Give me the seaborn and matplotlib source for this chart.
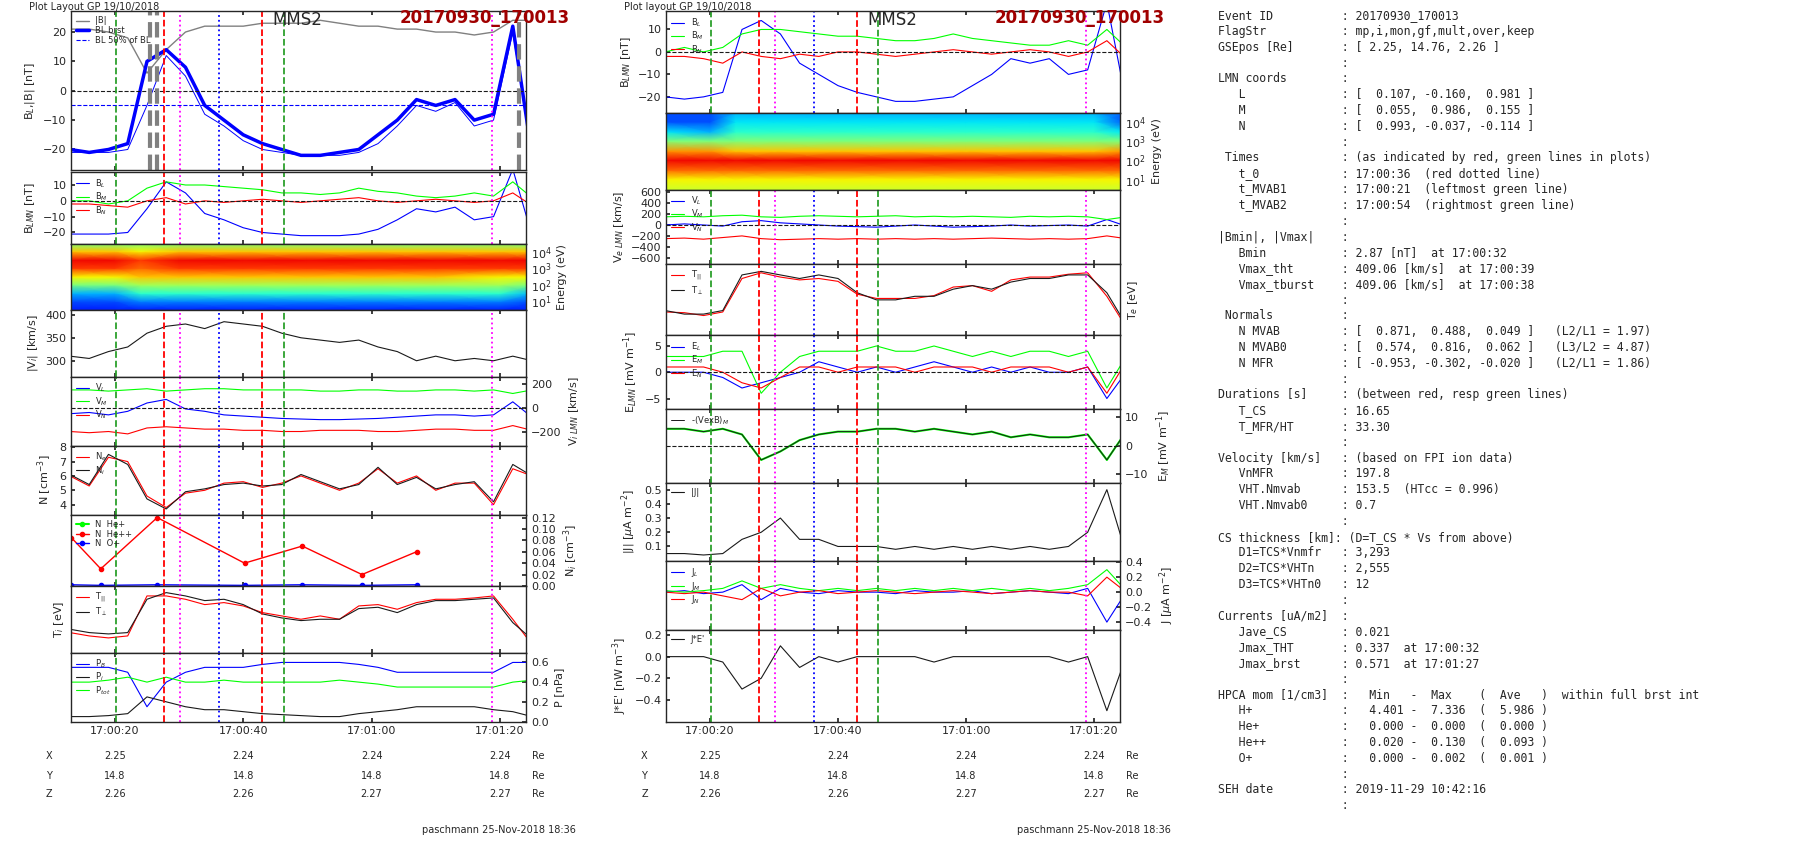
import numpy as np
import matplotlib
matplotlib.use("Agg")
import matplotlib.pyplot as plt
import seaborn as sns

sns.set_theme(style="ticks")
plt.rcParams['font.family'] = ['DejaVu Sans']

# ---------------- data (seconds after 17:00:00) ----------------
t = [13, 16, 19, 22, 25, 28, 31, 34, 37, 40, 43, 46, 49, 52, 55, 58, 61, 64, 67, 70, 73, 76, 79, 82, 85]
Bmag = [21, 21, 20, 18, 6, 14, 20, 22, 22, 22, 23, 23, 23, 24, 23, 22, 22, 21, 21, 20, 20, 19, 20, 24, 24]
BL = [-21, -21, -21, -20, -5, 12, 5, -8, -12, -17, -20, -21, -22, -22, -22, -21, -18, -12, -5, -7, -4, -12, -10, 20, -22]
BM = [0, 0, -2, 0, 8, 12, 10, 10, 9, 8, 7, 5, 5, 4, 5, 8, 6, 5, 3, 2, 3, 5, 3, 12, 2]
BN = [-2, -2, -3, -4, 0, 2, -2, 0, -1, 0, 1, 0, -1, 0, 1, 2, 0, -1, 0, 1, 0, -1, 0, 5, -3]
Vimag = [310, 305, 320, 330, 360, 375, 380, 370, 385, 380, 375, 360, 350, 345, 340, 345, 330, 320, 300, 310, 300, 305, 300, 310, 300]
ViL = [-50, -40, -60, -30, 40, 70, -10, -30, -60, -70, -80, -90, -95, -100, -100, -95, -90, -80, -70, -60, -60, -70, -60, 50, -80]
ViM = [150, 150, 140, 150, 160, 140, 150, 160, 160, 150, 150, 150, 150, 140, 140, 150, 150, 140, 140, 150, 150, 140, 150, 120, 150]
ViN = [-200, -210, -200, -220, -170, -160, -170, -180, -180, -190, -190, -200, -200, -190, -190, -190, -200, -200, -190, -180, -180, -190, -190, -150, -190]
Ne = [6.0, 5.3, 7.3, 7.0, 4.6, 3.8, 4.8, 5.0, 5.5, 5.6, 5.2, 5.5, 6.0, 5.5, 5.0, 5.5, 6.5, 5.5, 6.0, 5.0, 5.5, 5.5, 4.0, 6.5, 6.0]
Ni = [6.1, 5.4, 7.5, 6.8, 4.4, 3.7, 4.9, 5.1, 5.4, 5.5, 5.3, 5.4, 6.1, 5.6, 5.1, 5.4, 6.6, 5.4, 5.9, 5.1, 5.4, 5.6, 4.2, 6.8, 6.0]
hpca_t = [13.2, 17.8, 26.6, 40.2, 49.2, 58.5, 67.0]
NHepp = [0.085, 0.03, 0.12, 0.04, 0.07, 0.02, 0.06]
NOp = [0.002, 0.001, 0.002, 0.001, 0.002, 0.001, 0.002]
Tpar = [0.30, 0.25, 0.22, 0.25, 0.85, 0.85, 0.80, 0.72, 0.75, 0.70, 0.60, 0.55, 0.50, 0.55, 0.50, 0.70, 0.72, 0.65, 0.75, 0.80, 0.80, 0.82, 0.85, 0.50, 0.12]
Tperp = [0.35, 0.30, 0.28, 0.30, 0.80, 0.90, 0.85, 0.78, 0.80, 0.72, 0.58, 0.52, 0.48, 0.50, 0.50, 0.66, 0.68, 0.60, 0.72, 0.78, 0.78, 0.80, 0.82, 0.45, 0.20]
Pb = [0.55, 0.55, 0.55, 0.50, 0.15, 0.40, 0.50, 0.55, 0.55, 0.55, 0.58, 0.60, 0.60, 0.60, 0.60, 0.58, 0.55, 0.50, 0.50, 0.50, 0.50, 0.50, 0.50, 0.60, 0.60]
Pi = [0.05, 0.05, 0.06, 0.08, 0.25, 0.20, 0.15, 0.12, 0.12, 0.10, 0.08, 0.07, 0.06, 0.05, 0.05, 0.08, 0.10, 0.12, 0.15, 0.15, 0.15, 0.15, 0.12, 0.10, 0.05]
Ptot = [0.40, 0.40, 0.42, 0.45, 0.40, 0.45, 0.40, 0.40, 0.42, 0.40, 0.40, 0.40, 0.40, 0.40, 0.42, 0.40, 0.38, 0.35, 0.35, 0.35, 0.35, 0.35, 0.35, 0.40, 0.42]
BLm = [-20, -21, -20, -18, 10, 14, 8, -5, -10, -15, -18, -20, -22, -22, -21, -20, -15, -10, -3, -5, -3, -10, -8, 22, -22]
BMm = [0, 2, 0, 2, 8, 10, 10, 9, 8, 7, 7, 6, 5, 5, 6, 8, 6, 5, 4, 3, 3, 5, 3, 10, 2]
BNm = [-2, -2, -3, -5, 0, -2, -3, -1, -2, 0, 0, -1, -2, -1, 0, 1, 0, -1, 0, 1, 0, -2, 0, 5, -3]
VeL = [0, 20, 0, -20, 60, 80, 40, 20, 0, -20, -30, -40, -20, 0, -20, -40, -30, -20, 0, -20, -10, 0, -20, 100, -20]
VeM = [150, 160, 150, 170, 180, 150, 140, 160, 170, 160, 150, 160, 170, 150, 160, 150, 160, 150, 140, 160, 150, 160, 150, 100, 150]
VeN = [-250, -240, -260, -230, -200, -250, -270, -260, -250, -260, -250, -260, -250, -260, -250, -260, -250, -240, -250, -260, -250, -260, -250, -200, -250]
Te = [0.35, 0.30, 0.30, 0.35, 0.85, 0.90, 0.85, 0.80, 0.85, 0.80, 0.60, 0.50, 0.50, 0.55, 0.55, 0.65, 0.70, 0.65, 0.75, 0.80, 0.80, 0.85, 0.85, 0.60, 0.15]
Te2 = [0.33, 0.32, 0.28, 0.33, 0.80, 0.88, 0.82, 0.78, 0.80, 0.76, 0.58, 0.52, 0.52, 0.52, 0.56, 0.68, 0.70, 0.62, 0.78, 0.82, 0.82, 0.86, 0.88, 0.55, 0.12]
EL = [0, 0, 0, -1, -3, -2, -1, 0, 2, 1, 0, 1, 0, 1, 2, 1, 0, 1, 0, 1, 0, 0, 1, -5, 0]
EM = [3, 3, 3, 4, 4, -4, 0, 3, 4, 4, 4, 5, 4, 4, 5, 4, 3, 4, 3, 4, 4, 3, 4, -3, 3]
EN = [1, 1, 1, 0, -2, -3, -1, 1, 1, 0, 1, 1, 1, 0, 1, 1, 1, 0, 1, 1, 1, 0, 1, -4, 2]
EMvxB = [6, 6, 5, 6, 4, -5, -2, 2, 4, 5, 5, 6, 6, 5, 6, 5, 4, 5, 3, 4, 3, 3, 4, -5, 5]
Jmag = [0.05, 0.05, 0.04, 0.05, 0.15, 0.20, 0.30, 0.15, 0.15, 0.10, 0.10, 0.10, 0.08, 0.10, 0.08, 0.10, 0.08, 0.10, 0.08, 0.10, 0.08, 0.10, 0.20, 0.50, 0.05]
JL = [0.0, 0.02, -0.02, 0.0, 0.1, -0.1, 0.05, 0.0, -0.02, 0.02, 0.0, 0.0, -0.02, 0.02, 0.0, 0.0, 0.02, -0.02, 0.0, 0.02, 0.0, -0.02, 0.05, -0.4, 0.0]
JM = [0.02, 0.0, 0.02, 0.05, 0.15, 0.05, 0.1, 0.05, 0.02, 0.05, 0.02, 0.05, 0.02, 0.05, 0.02, 0.05, 0.02, 0.05, 0.02, 0.05, 0.02, 0.05, 0.1, 0.3, 0.02]
JN = [0.0, -0.02, 0.0, -0.05, -0.1, 0.05, -0.05, 0.0, 0.02, -0.02, 0.0, 0.02, 0.0, -0.02, 0.0, 0.02, 0.0, -0.02, 0.0, 0.02, 0.0, 0.0, -0.05, 0.2, 0.0]
JE = [0.0, 0.0, 0.0, -0.05, -0.30, -0.20, 0.10, -0.10, 0.0, -0.05, 0.0, 0.0, 0.0, 0.0, -0.05, 0.0, 0.0, 0.0, 0.0, 0.0, 0.0, -0.05, 0.0, -0.50, 0.0]
spec_t = [13, 20, 24, 30, 40, 50, 60, 70, 80, 85]
spec_E = [3, 10, 30, 100, 300, 1000, 3000, 10000, 30000]
spec_ion = [[1.5, 1.5, 1.5, 1.5, 1.5, 1.5, 1.5, 1.5, 1.5, 1.5],
            [2, 2, 2.5, 2.5, 2.5, 2.5, 2.5, 2.5, 2.5, 2],
            [3, 3, 4, 4, 4, 4, 4, 4, 4, 3],
            [5, 5, 5.5, 5.5, 5.5, 5.5, 5.5, 5.5, 5.5, 5],
            [6.5, 6.5, 7, 7, 7, 7, 7, 7, 6.5, 6.5],
            [8.5, 8.5, 8, 8.5, 8.5, 8.5, 8.5, 8.5, 8.5, 8.5],
            [9, 9, 8.5, 9, 9, 9, 9, 9, 9, 9],
            [7, 7, 6.5, 7, 7, 7, 7, 7, 7, 7],
            [5, 5, 5, 5, 5, 5, 5, 5, 5, 5]]
spec_ele = [[6, 6, 6, 6, 6, 6, 6, 6, 6, 6],
            [6.5, 6.5, 6.5, 6.5, 6.5, 6.5, 6.5, 6.5, 6.5, 6.5],
            [8, 8, 8, 8, 8, 8, 8, 8, 8, 8],
            [9, 9, 9, 9, 9, 9, 9, 9, 9, 9],
            [7.5, 7.5, 7, 7, 7, 7, 7, 7, 7, 7.5],
            [5, 5, 5, 5, 5, 5, 5, 5, 5, 5],
            [3.5, 3, 4, 4, 4, 4, 4, 4, 4, 3.5],
            [2, 2, 3.5, 3.5, 3.5, 3.5, 3.5, 3.5, 3.5, 2],
            [2, 2, 3, 3, 3, 3, 3, 3, 3, 2]]
tick_s = [20, 40, 60, 80]
tick_lab = ["17:00:20", "17:00:40", "17:01:00", "17:01:20"]
pos_X = ["2.25", "2.24", "2.24", "2.24"]
pos_Y = ["14.8", "14.8", "14.8", "14.8"]
pos_Z = ["2.26", "2.26", "2.27", "2.27"]
info = """Event ID          : 20170930_170013
FlagStr           : mp,i,mon,gf,mult,over,keep
GSEpos [Re]       : [ 2.25, 14.76, 2.26 ]
                  :
LMN coords        :
   L              : [  0.107, -0.160,  0.981 ]
   M              : [  0.055,  0.986,  0.155 ]
   N              : [  0.993, -0.037, -0.114 ]
                  :
 Times            : (as indicated by red, green lines in plots)
   t_0            : 17:00:36  (red dotted line)
   t_MVAB1        : 17:00:21  (leftmost green line)
   t_MVAB2        : 17:00:54  (rightmost green line)
                  :
|Bmin|, |Vmax|    :
   Bmin           : 2.87 [nT]  at 17:00:32
   Vmax_tht       : 409.06 [km/s]  at 17:00:39
   Vmax_tburst    : 409.06 [km/s]  at 17:00:38
                  :
 Normals          :
   N MVAB         : [  0.871,  0.488,  0.049 ]   (L2/L1 = 1.97)
   N MVAB0        : [  0.574,  0.816,  0.062 ]   (L3/L2 = 4.87)
   N MFR          : [ -0.953, -0.302, -0.020 ]   (L2/L1 = 1.86)
                  :
Durations [s]     : (between red, resp green lines)
   T_CS           : 16.65
   T_MFR/HT       : 33.30
                  :
Velocity [km/s]   : (based on FPI ion data)
   VnMFR          : 197.8
   VHT.Nmvab      : 153.5  (HTcc = 0.996)
   VHT.Nmvab0     : 0.7
                  :
CS thickness [km]: (D=T_CS * Vs from above)
   D1=TCS*Vnmfr   : 3,293
   D2=TCS*VHTn    : 2,555
   D3=TCS*VHTn0   : 12
                  :
Currents [uA/m2]  :
   Jave_CS        : 0.021
   Jmax_THT       : 0.337  at 17:00:32
   Jmax_brst      : 0.571  at 17:01:27
                  :
HPCA mom [1/cm3]  :   Min   -  Max    (  Ave   )  within full brst int
   H+             :   4.401 -  7.336  (  5.986 )
   He+            :   0.000 -  0.000  (  0.000 )
   He++           :   0.020 -  0.130  (  0.093 )
   O+             :   0.000 -  0.002  (  0.001 )
                  :
SEH date          : 2019-11-29 10:42:16
                  :"""

# ---------------- layout ----------------
W, H = 1570.0, 732.0
fig = plt.figure(figsize=(18.04, 8.41), dpi=100)
fig.patch.set_facecolor('white')

def mk(x0, x1, y0, y1):
    ax = fig.add_axes([x0 / W, 1 - y1 / H, (x1 - x0) / W, (y1 - y0) / H])
    ax.set_xlim(13.2, 84.1)
    ax.tick_params(labelsize=8, length=3, direction='in', top=True)
    ax.set_xticks(tick_s)
    ax.set_xticklabels([])
    for s in ax.spines.values():
        s.set_linewidth(1.0)
    return ax

def vlines(ax):
    for x, c, ls in [(20.2, 'tab:green', '--'), (46.3, 'tab:green', '--'), (27.7, 'red', '--'),
                     (42.9, 'red', '--'), (30.2, 'magenta', ':'), (78.7, 'magenta', ':'), (36.3, 'blue', ':')]:
        ax.axvline(x, color=c, ls=ls, lw=1.3)

def line(ax, y, c, lw=0.8, label=None, x=t):
    sns.lineplot(x=x, y=y, ax=ax, color=c, lw=lw, label=label, legend=False, estimator=None)

def leg(ax, **kw):
    ax.legend(loc='upper left', fontsize=6, frameon=False, handlelength=1.5, borderpad=0.1,
              labelspacing=0.1, **kw)

def spec(ax, Z):
    ax.pcolormesh(spec_t, spec_E, np.array(Z), cmap='jet', shading='gouraud', vmin=0, vmax=10)
    ax.set_yscale('log'); ax.set_ylim(3, 30000)
    ax.set_yticks([10, 100, 1000, 10000])
    ax.yaxis.tick_right(); ax.yaxis.set_label_position('right')
    ax.tick_params(axis='y', which='minor', right=False, left=False)
    ax.set_ylabel('Energy (eV)', fontsize=8)

LX0, LX1 = 62, 458
rows_L = [(10, 148), (150, 212), (212, 270), (270, 328), (328, 388), (388, 448), (448, 510), (510, 568), (568, 628)]
axL = [mk(LX0, LX1, a, b) for a, b in rows_L]

a = axL[0]
line(a, Bmag, 'grey', 1, '|B|')
line(a, BL, 'blue', 0.7)
line(a, BLm, 'blue', 2.5, 'BL brst')
a.axhline(0, color='k', ls='--', lw=0.8); a.axhline(-5, color='blue', ls='--', lw=0.8, label='BL 50% of BL')
for x in (25.5, 26.6, 83.0):
    a.axvline(x, color='grey', ls='--', lw=3)
vlines(a); a.set_ylim(-27, 27); a.set_yticks([-20, -10, 0, 10, 20])
a.set_ylabel('B$_L$,|B| [nT]', fontsize=8); leg(a)

a = axL[1]
line(a, BL, 'blue', label='B$_L$'); line(a, BM, 'lime', label='B$_M$'); line(a, BN, 'red', label='B$_N$')
a.axhline(0, color='k', ls='--', lw=0.8); vlines(a); a.set_ylim(-27, 18); a.set_yticks([-20, -10, 0, 10])
a.set_ylabel('B$_{LMN}$ [nT]', fontsize=8); leg(a)

spec(axL[2], spec_ion)

a = axL[3]
line(a, Vimag, 'k'); vlines(a); a.set_ylim(265, 410); a.set_yticks([300, 350, 400])
a.set_ylabel('|V$_i$| [km/s]', fontsize=8)

a = axL[4]
line(a, ViL, 'blue', label='V$_L$'); line(a, ViM, 'lime', label='V$_M$'); line(a, ViN, 'red', label='V$_N$')
a.axhline(0, color='k', ls='--', lw=0.8); vlines(a); a.set_ylim(-320, 260); a.set_yticks([-200, 0, 200])
a.yaxis.tick_right(); a.yaxis.set_label_position('right'); a.set_ylabel('V$_{i\\ LMN}$ [km/s]', fontsize=8); leg(a)

a = axL[5]
line(a, Ne, 'red', label='N$_e$'); line(a, Ni, 'k', label='N$_i$'); vlines(a); a.set_ylim(3.3, 8.1)
a.set_yticks([4, 5, 6, 7, 8]); a.set_ylabel('N [cm$^{-3}$]', fontsize=8); leg(a)

a = axL[6]
a.plot([], [], color='lime', marker='o', ms=3, label='N  He+')
a.plot(hpca_t, NHepp, color='red', marker='o', ms=3, lw=1, label='N  He++')
a.plot(hpca_t, NOp, color='blue', marker='o', ms=3, lw=1, label='N  O+')
vlines(a); a.set_ylim(0, 0.125); a.set_yticks([0, 0.02, 0.04, 0.06, 0.08, 0.10, 0.12])
a.yaxis.tick_right(); a.yaxis.set_label_position('right'); a.set_ylabel('N$_i$ [cm$^{-3}$]', fontsize=8); leg(a)

a = axL[7]
line(a, Tpar, 'red', label='T$_{||}$'); line(a, Tperp, 'k', label='T$_\\perp$'); vlines(a)
a.set_ylim(0, 1); a.set_yticks([]); a.set_ylabel('T$_i$ [eV]', fontsize=8); leg(a)

a = axL[8]
line(a, Pb, 'blue', label='P$_B$'); line(a, Pi, 'k', label='P$_i$'); line(a, Ptot, 'lime', label='P$_{tot}$')
vlines(a); a.set_ylim(0, 0.7); a.set_yticks([0, 0.2, 0.4, 0.6])
a.yaxis.tick_right(); a.yaxis.set_label_position('right'); a.set_ylabel('P [nPa]', fontsize=8); leg(a)
a.set_xticklabels(tick_lab)

MX0, MX1 = 580, 975
rows_M = [(10, 98), (98, 165), (165, 230), (230, 292), (292, 356), (356, 420), (420, 488), (488, 548), (548, 628)]
axM = [mk(MX0, MX1, a_, b_) for a_, b_ in rows_M]

a = axM[0]
line(a, BLm, 'blue', label='B$_L$'); line(a, BMm, 'lime', label='B$_M$'); line(a, BNm, 'red', label='B$_N$')
a.axhline(0, color='k', ls='--', lw=0.8); vlines(a); a.set_ylim(-27, 18); a.set_yticks([-20, -10, 0, 10])
a.set_ylabel('B$_{LMN}$ [nT]', fontsize=8); leg(a)

spec(axM[1], spec_ele)

a = axM[2]
line(a, VeL, 'blue', label='V$_L$'); line(a, VeM, 'lime', label='V$_M$'); line(a, VeN, 'red', label='V$_N$')
a.axhline(0, color='k', ls='--', lw=0.8); vlines(a); a.set_ylim(-720, 650)
a.set_yticks([-600, -400, -200, 0, 200, 400, 600]); a.set_ylabel('V$_{e\\ LMN}$ [km/s]', fontsize=8); leg(a)

a = axM[3]
line(a, Te2, 'red', label='T$_{||}$'); line(a, Te, 'k', label='T$_\\perp$'); vlines(a)
a.set_ylim(0, 1); a.set_yticks([]); a.yaxis.set_label_position('right'); a.set_ylabel('T$_e$ [eV]', fontsize=8); leg(a)

a = axM[4]
line(a, EL, 'blue', label='E$_L$'); line(a, EM, 'lime', label='E$_M$'); line(a, EN, 'red', label='E$_N$')
a.axhline(0, color='k', ls='--', lw=0.8); vlines(a); a.set_ylim(-7, 7); a.set_yticks([-5, 0, 5])
a.set_ylabel('E$_{LMN}$ [mV m$^{-1}$]', fontsize=8); leg(a)

a = axM[5]
line(a, EMvxB, 'lime', 1.5); line(a, EMvxB, 'k', 0.7, label='-(VexB)$_M$')
a.axhline(0, color='k', ls='--', lw=0.8); vlines(a); a.set_ylim(-13, 13); a.set_yticks([-10, 0, 10])
a.yaxis.tick_right(); a.yaxis.set_label_position('right'); a.set_ylabel('E$_M$ [mV m$^{-1}$]', fontsize=8); leg(a)

a = axM[6]
line(a, Jmag, 'k', label='|J|'); vlines(a); a.set_ylim(0, 0.55); a.set_yticks([0.1, 0.2, 0.3, 0.4, 0.5])
a.set_ylabel('|J| [$\\mu$A m$^{-2}$]', fontsize=8); leg(a)

a = axM[7]
line(a, JL, 'blue', label='J$_L$'); line(a, JM, 'lime', label='J$_M$'); line(a, JN, 'red', label='J$_N$')
vlines(a); a.set_ylim(-0.5, 0.42); a.set_yticks([-0.4, -0.2, 0, 0.2, 0.4])
a.yaxis.tick_right(); a.yaxis.set_label_position('right'); a.set_ylabel('J [$\\mu$A m$^{-2}$]', fontsize=8); leg(a)

a = axM[8]
line(a, JE, 'k', label="J*E'"); vlines(a); a.set_ylim(-0.6, 0.25); a.set_yticks([-0.4, -0.2, 0.0, 0.2])
a.set_ylabel("J*E' [nW m$^{-3}$]", fontsize=8); leg(a)
a.set_xticklabels(tick_lab)

# headers, coordinates, footers
for x0, x1 in [(LX0, LX1), (MX0, MX1)]:
    fig.text((x0 - 37) / W, 1 - 6 / H, 'Plot Layout GP 19/10/2018' if x0 == LX0 else 'Plot layout GP 19/10/2018', fontsize=7, va='center')
    fig.text((x0 + 175) / W, 1 - 17 / H, 'MMS2', fontsize=12, va='center')
    fig.text((x0 + 286) / W, 1 - 16 / H, '20170930_170013', fontsize=12, va='center', color='#a00000', fontweight='bold')
    for lab, vals, y in [('X', pos_X, 658), ('Y', pos_Y, 675), ('Z', pos_Z, 691)]:
        fig.text((x0 - 22) / W, 1 - y / H, lab, fontsize=7, va='center')
        for s, v in zip(tick_s, vals):
            xp = x0 + (s - 13.2) / (84.1 - 13.2) * (x1 - x0)
            fig.text(xp / W, 1 - y / H, v, fontsize=7, va='center', ha='center')
        fig.text((x1 + 5) / W, 1 - y / H, 'Re', fontsize=7, va='center')
    fig.text((x0 + 305) / W, 1 - 722 / H, 'paschmann 25-Nov-2018 18:36', fontsize=7, va='center')

fig.text(1060 / W, 1 - 8 / H, info, fontsize=8.3, family='DejaVu Sans Mono', va='top', linespacing=1.28)

fig.savefig('out.png', dpi=100)
